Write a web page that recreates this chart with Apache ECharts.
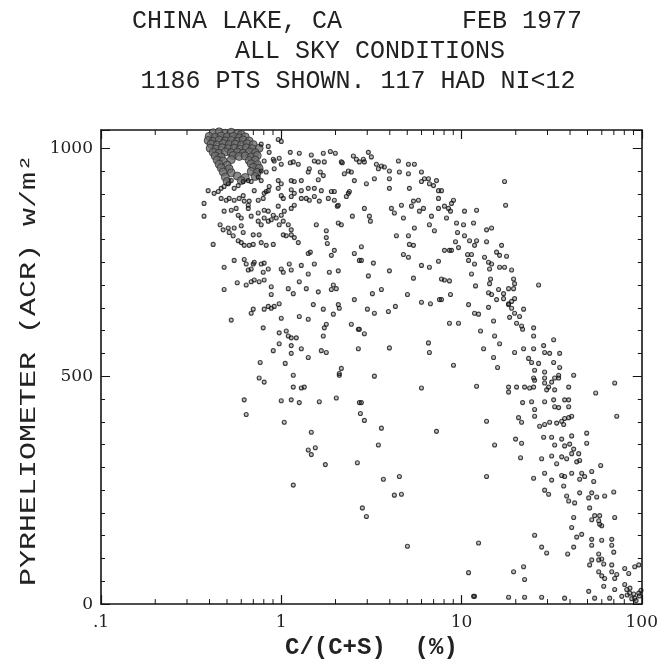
<!DOCTYPE html>
<html><head><meta charset="utf-8">
<script src="https://cdn.jsdelivr.net/npm/echarts@6/dist/echarts.min.js"></script>
<style>html,body{margin:0;padding:0;background:#fff}#c{width:661px;height:665px}</style>
</head><body><div id="c"></div>
<script>
const titleLines = ["CHINA LAKE, CA        FEB 1977", "ALL SKY CONDITIONS", "1186 PTS SHOWN. 117 HAD NI<12"];
const yAxisTitle = "PYRHELIOMETER (ACR) w/m\u00B2";
const xAxisTitle = "C/(C+S)  (%)";
const xTickLabels = {"-1": ".1", "0": "1", "1": "10", "2": "100"};
const yTickLabels = [0, 500, 1000];
const xMinorTicks = [0.2,0.3,0.4,0.5,0.6,0.7,0.8,0.9,2,3,4,5,6,7,8,9,20,30,40,50,60,70,80,90];

// dense clump of overlapping points near 0.4-0.75 %, ~930-1035 W/m2
const clusterPts = [
[0.419,1034],[0.452,1036],[0.489,1033],[0.528,1035],[0.570,1032],[0.600,1030],
[0.398,1026],[0.430,1024],[0.464,1027],[0.501,1025],[0.541,1026],[0.584,1023],[0.631,1025],
[0.393,1017],[0.419,1015],[0.452,1018],[0.489,1016],[0.528,1017],[0.570,1015],[0.615,1018],[0.664,1016],
[0.408,1009],[0.441,1007],[0.476,1010],[0.514,1008],[0.555,1009],[0.600,1007],[0.647,1010],[0.699,1008],
[0.403,1000],[0.435,998],[0.470,1001],[0.508,999],[0.548,1000],[0.592,998],[0.639,1001],[0.690,999],[0.754,1000],
[0.419,991],[0.452,989],[0.489,992],[0.528,990],[0.570,991],[0.615,989],[0.664,992],[0.717,990],
[0.430,983],[0.464,981],[0.541,984],[0.584,982],[0.631,983],[0.681,981],[0.736,984],
[0.441,974],[0.476,972],[0.528,975],[0.664,973],[0.717,974],
[0.452,965],[0.501,963],[0.681,966],[0.736,964],
[0.464,957],[0.514,955],[0.699,958],[0.754,956],
[0.476,948],[0.528,946],[0.681,949],[0.736,947],
[0.489,937],[0.570,939],[0.631,936],[0.717,938],
[0.501,927],[0.600,929]
];

const leftPts = [
[0.962,1019],[0.774,1009],[0.847,1004],[0.857,991],[0.903,976],[0.804,972],[0.914,972],[0.974,978],[0.914,955],[0.825,948],[0.774,950],[0.962,929],[0.774,929],[0.745,937],[0.857,916],[0.825,905],[0.962,912],
[0.393,907],[0.424,901],[0.447,905],[0.464,912],[0.482,916],[0.508,922],[0.528,929],[0.548,912],[0.577,918],[0.615,927],[0.656,929],[0.681,927],[0.708,907],
[0.373,879],[0.373,851],[0.464,890],[0.495,886],[0.514,890],[0.548,886],[0.584,890],[0.615,896],[0.623,884],[0.664,884],[0.656,875],[0.745,886],[0.794,890],[0.804,901],[0.847,907],
[0.482,862],[0.528,864],[0.562,868],[0.577,853],[0.600,847],[0.656,868],[0.681,851],[0.745,858],[0.804,864],[0.847,862],[0.903,853],[0.962,873],
[0.458,832],[0.476,821],[0.508,825],[0.548,825],[0.600,830],[0.615,815],[0.745,840],[0.774,832],[0.804,847],[0.847,840],[0.880,843],[0.938,847],[0.974,832],
[0.419,789],[0.514,815],[0.541,808],[0.577,797],[0.600,793],[0.623,787],[0.664,787],[0.699,789],[0.699,810],[0.754,810],[0.774,793],[0.825,787],[0.903,789],
[0.482,739],[0.548,754],[0.623,756],[0.639,746],[0.699,746],[0.708,750],[0.774,746],[0.804,748],[0.656,733],[0.681,735],[0.794,728],[0.847,735],
[0.482,690],[0.570,705],[0.639,700],[0.681,707],[0.708,711],[0.754,707],[0.804,711],[0.880,696],[0.880,679],
[0.528,623],[0.681,638],[0.699,647],[0.804,647],[0.847,653],[0.880,649],[0.914,653],[0.974,659],[0.794,606],[0.974,595],
[0.764,530],[0.903,556],[0.974,571],[0.754,496],[0.804,487],[0.623,448],[0.639,416]
];

const midPts = [
[1.00,1015],[1.122,991],[1.259,989],[1.468,985],[1.711,989],[1.872,993],[1.995,989],[2.512,983],[2.610,976],[2.712,970],[1.526,972],[1.605,970],[1.733,970],[2.182,968],
[1.00,965],[1.122,968],[1.166,970],[1.243,965],[1.412,948],[1.431,955],[1.647,948],[1.711,940],[2.356,950],[2.448,948],[2.544,929],[1.605,931],
[1.00,922],[1.136,929],[1.181,927],[1.292,929],[1.136,909],[1.181,901],[1.292,907],[1.412,912],[1.526,912],[1.668,907],
[1.00,896],[1.026,890],[1.136,894],[1.292,890],[1.377,890],[1.431,886],[1.526,894],[1.626,884],[1.824,890],[1.970,886],[1.970,905],[2.072,875],[2.356,901],[2.297,894],[2.480,851],
[1.00,853],[1.039,862],[1.136,868],[1.181,875],[1.026,840],[1.094,832],[1.136,821],[1.565,832],[1.778,819],[2.072,836],[2.154,832],
[1.026,810],[1.066,808],[1.136,810],[1.181,804],[1.243,793],[1.412,769],[1.449,772],[1.778,804],[1.801,791],[1.896,765],[1.970,776],
[1.00,735],[1.026,728],[1.108,746],[1.136,733],[1.292,743],[1.412,724],[1.526,746],[1.848,728],[2.072,731],[2.544,769],[2.712,754],
[1.094,692],[1.166,681],[1.259,707],[1.377,692],[1.605,685],[1.945,700],[2.020,692],
[1.00,627],[1.259,631],[1.412,625],[1.506,657],[1.711,647],[1.945,636],[2.072,657],[2.099,649],[2.544,668],
[1.066,599],[1.094,588],[1.136,584],[1.212,584],[1.778,614],[1.733,606],[1.711,588],[2.448,614],[2.677,603],
[1.136,567],[1.136,550],[1.292,560],[1.412,541],[1.052,528],[1.668,556],[1.778,552],[2.677,560],
[1.166,502],[1.166,476],[1.292,474],[1.342,476],[2.099,506],[2.154,517],
[1.00,446],[1.136,448],[1.259,442],[1.626,444],[2.020,452],[1.039,399],[1.468,377],[1.412,338],[1.468,328],[1.545,343],[1.756,306],[2.643,310],[1.166,261],[2.712,442],[2.748,418],
[2.154,970],[2.238,944],[2.855,976],[2.891,970],[3.043,991],[3.162,981],[3.371,965],[3.458,955],[3.594,961],[3.732,959],[3.981,950],[3.981,933],[4.467,972],[4.522,948],[5.076,944],[5.076,965],[5.477,965],[5.995,948],
[2.967,922],[3.286,933],[3.981,912],[5.138,912],[5.995,927],[6.225,933],[6.556,933],[7.263,929],[6.637,922],[6.990,918],[7.451,907],[7.743,907],
[1.896,905],[2.046,873],[2.387,905],[2.891,868],[3.083,851],[3.122,840],[4.084,868],[4.241,858],[4.642,875],[4.762,847],[5.275,873],[5.412,884],[5.768,886],[5.839,862],[6.150,868],[6.813,851],[6.637,832],[7.075,819],[7.451,868],[7.451,890],[8.041,873],[8.468,868],[8.799,879],[8.685,862],[9.027,886],
[4.354,808],[5.076,808],[5.138,789],[5.412,787],[5.477,825],[4.762,767],[5.076,761],[8.254,847],[9.381,836],[9.502,815],[9.261,795],[9.624,782],[8.799,776],[8.041,776],[8.572,776],
[2.783,754],[2.783,784],[3.244,748],[3.043,720],[3.981,731],[5.412,715],[5.995,743],[6.637,739],[7.451,752],[7.743,713],[8.041,711],[8.572,709],
[1.896,690],[3.005,647],[3.286,638],[3.203,681],[3.594,690],[3.930,642],[4.297,653],[5.012,679],[5.995,662],[6.723,659],[7.543,668],[7.743,668],[8.685,679],[8.572,616],[9.624,616],
[2.712,603],[2.891,593],[3.981,562],[6.556,573],[6.637,552],[9.027,524],[5.995,474],[3.286,500],[2.099,502],
[2.783,442],[2.891,403],[3.594,386],[3.458,349],[3.687,274],[4.522,280],[4.241,239],[4.642,241],[2.818,211],[2.967,192],[5.012,127],[7.263,379]
];

const rightPts = [
[10.39,862],[10.26,832],[11.66,836],[12.12,864],[10.39,808],[11.08,797],[12.12,797],[11.81,787],[11.36,767],[10.80,767],[13.77,821],[14.68,825],[13.77,795],[16.68,787],[17.33,927],[17.56,875],
[10.94,754],[11.81,746],[11.36,724],[13.42,761],[14.12,750],[14.68,746],[14.31,735],[15.65,772],[16.26,765],[17.78,763],[16.26,739],[17.33,739],[18.96,733],[19.45,713],[19.70,703],[14.31,703],[14.49,713],[11.96,698],
[14.12,683],[14.68,679],[16.05,690],[17.11,681],[18.24,692],[19.45,692],[15.65,668],[17.11,670],[18.24,659],[18.96,664],[19.70,670],[26.77,700],
[10.94,657],[11.81,638],[12.43,636],[14.12,651],[15.06,621],[18.24,657],[18.96,649],[19.70,638],[20.20,616],[20.99,631],[22.10,647],[18.48,629],
[12.75,599],[15.26,588],[16.26,571],[13.26,560],[15.06,541],[15.85,519],[19.70,552],[22.10,560],[25.12,606],[25.12,588],[25.12,560],[28.55,567],[28.91,552],[32.44,580],[30.83,550],[35.03,550],[21.54,610],[21.82,603],
[23.56,539],[24.48,530],[26.77,528],[32.44,530],[35.03,519],[28.91,509],[25.44,513],[25.12,496],[28.91,496],[31.62,487],[34.58,496],[39.30,476],[41.90,502],[30.43,476],[32.86,470],[23.87,474],[22.38,476],[20.20,476],[18.24,476],[18.24,465],[70.75,485],[55.50,463],[12.12,478],
[13.77,401],[15.26,349],[13.77,280],[12.43,134],[10.94,69],[11.66,17],[25.12,476],[25.44,491],[28.91,485],[29.67,470],[32.86,496],[34.58,502],
[21.82,442],[24.48,444],[25.44,427],[25.44,412],[28.91,444],[32.44,448],[32.86,433],[34.58,431],[37.32,448],[39.30,448],[39.30,433],[72.63,412],
[20.72,409],[21.54,399],[27.12,390],[28.91,394],[30.83,399],[33.71,397],[35.94,401],[37.32,407],[39.30,409],[40.84,412],[36.87,394],
[19.95,362],[21.54,353],[28.55,366],[31.62,366],[32.86,349],[35.94,362],[37.32,347],[39.81,351],[41.90,340],[44.67,330],[49.48,353],[49.48,375],[40.84,369],
[21.26,321],[27.83,319],[31.62,325],[33.71,308],[35.94,323],[38.31,319],[40.84,330],[43.54,312],[45.22,315],[59.16,304],
[25.12,276],[28.91,287],[31.62,272],[35.94,282],[37.32,280],[40.84,287],[46.42,287],[45.22,274],[48.20,280],[52.75,291],[54.12,269],
[28.91,250],[30.43,241],[36.87,259],[38.31,237],[42.41,222],[45.22,244],[50.76,233],[52.75,244],[56.23,235],[62.25,237],[69.90,246],[39.30,226],
[41.90,190],[51.38,211],[52.75,185],[54.77,194],[57.68,183],[58.39,175],[59.95,172],[58.39,194],[70.75,190],[40.84,168],
[25.44,151],[27.83,125],[29.67,112],[38.80,110],[41.90,125],[43.54,147],[46.42,153],[52.75,142],[52.75,129],[59.95,140],[68.13,142],[68.13,129],[69.90,114],
[57.68,110],[57.68,97],[59.95,99],[61.50,88],[52.75,97],[51.38,86],[57.68,71],[59.95,62],[62.25,56],[68.13,71],[70.75,56],[72.63,65],[68.13,86],
[80.41,78],[84.68,67],[91.38,82],[96.24,86],[80.41,43],[82.54,32],[85.72,24],[90.27,22],[91.38,13],[96.24,24],[70.75,32],[61.50,39],[50.76,28],[54.77,13],[66.37,13],[77.43,17],
[37.32,13],[27.83,15],[22.38,15],[18.24,15],[11.81,17],[19.45,71],[22.38,54],[22.10,82],
[83.0,20],[88.0,12],[93.0,8],[97.0,18],[99.0,30],[86.0,35]
];

const chart = echarts.init(document.getElementById('c'), null, {renderer: 'canvas'});
const Y_MIN = 0, Y_MAX = 1040, X_MIN = 0.1, X_MAX = 100;
const ink = '#141414';
const tickFont = {fontFamily: 'DejaVu Serif', fontSize: 17, color: '#222'};

function xAxisCfg(pos) {
  return {
    type: 'log', logBase: 10, min: X_MIN, max: X_MAX, position: pos,
    axisLine: {show: true, onZero: false, lineStyle: {color: ink, width: 1.6}},
    axisTick: {show: true, inside: true, length: 9, lineStyle: {color: ink, width: 1.2}},
    minorTick: {show: false},
    splitLine: {show: false},
    axisLabel: pos === 'bottom' ? Object.assign({
      show: true, margin: 10,
      formatter: v => xTickLabels[String(Math.round(Math.log10(v)))] || ''
    }, tickFont) : {show: false},
    name: pos === 'bottom' ? xAxisTitle : '',
    nameLocation: 'middle', nameGap: 30,
    nameTextStyle: {fontFamily: 'Liberation Mono', fontSize: 24, fontWeight: 'bold', color: '#222'}
  };
}
function yAxisCfg(pos, interval, len, labels, line) {
  return {
    type: 'value', min: Y_MIN, max: Y_MAX, interval: interval, position: pos,
    axisLine: {show: line, onZero: false, lineStyle: {color: ink, width: 1.6}},
    axisTick: {show: true, inside: true, length: len, lineStyle: {color: ink, width: 1}},
    splitLine: {show: false},
    axisLabel: labels ? Object.assign({
      show: true, margin: 8,
      formatter: v => (yTickLabels.indexOf(v) >= 0 ? String(v) : '')
    }, tickFont) : {show: false}
  };
}

const dotStyle = {color: 'rgba(0,0,0,0.3)', borderColor: '#111', borderWidth: 1.1};
const titleFont = '25px "Liberation Mono"';

chart.setOption({
  animation: false,
  backgroundColor: '#fff',
  grid: {left: 101, right: 18, top: 130, bottom: 52, containLabel: false},
  xAxis: [xAxisCfg('bottom'), xAxisCfg('top')],
  yAxis: [
    yAxisCfg('left', 50, 4, true, true),
    yAxisCfg('right', 50, 4, false, true),
    yAxisCfg('left', 500, 9, false, false),
    yAxisCfg('right', 500, 9, false, false)
  ],
  graphic: [
    {type: 'text', x: 357, y: 21, style: {text: titleLines[0], font: titleFont, fill: '#222', textAlign: 'center', textVerticalAlign: 'middle'}},
    {type: 'text', x: 370, y: 51, style: {text: titleLines[1], font: titleFont, fill: '#222', textAlign: 'center', textVerticalAlign: 'middle'}},
    {type: 'text', x: 358, y: 81, style: {text: titleLines[2], font: titleFont, fill: '#222', textAlign: 'center', textVerticalAlign: 'middle'}},
    {type: 'text', x: 29, y: 370, rotation: Math.PI / 2, scaleY: 0.72,
     style: {text: yAxisTitle, font: '30px "Liberation Mono"', fill: '#222', textAlign: 'center', textVerticalAlign: 'middle'}}
  ],
  series: [
    {type: 'custom', xAxisIndex: 0, yAxisIndex: 0, silent: true, clip: false,
     data: xMinorTicks.map(v => [v, 0]), encode: {x: 0, y: 1},
     renderItem: function (params, api) {
       const v = api.value(0);
       const b = api.coord([v, Y_MIN]);
       const t = api.coord([v, Y_MAX]);
       return {type: 'group', children: [
         {type: 'line', shape: {x1: b[0], y1: b[1], x2: b[0], y2: b[1] - 5}, style: {stroke: ink, lineWidth: 1}},
         {type: 'line', shape: {x1: t[0], y1: t[1], x2: t[0], y2: t[1] + 5}, style: {stroke: ink, lineWidth: 1}}
       ]};
     }},
    {type: 'scatter', name: 'clump', data: clusterPts, symbol: 'circle', symbolSize: 8,
     itemStyle: {color: '#6e6e6e', borderColor: '#2a2a2a', borderWidth: 0.9}},
    {type: 'scatter', name: 'x<1', data: leftPts, symbol: 'circle', symbolSize: 4, itemStyle: dotStyle},
    {type: 'scatter', name: '1-10', data: midPts, symbol: 'circle', symbolSize: 4, itemStyle: dotStyle},
    {type: 'scatter', name: '>10', data: rightPts, symbol: 'circle', symbolSize: 4, itemStyle: dotStyle}
  ]
});
</script>
</body></html>
